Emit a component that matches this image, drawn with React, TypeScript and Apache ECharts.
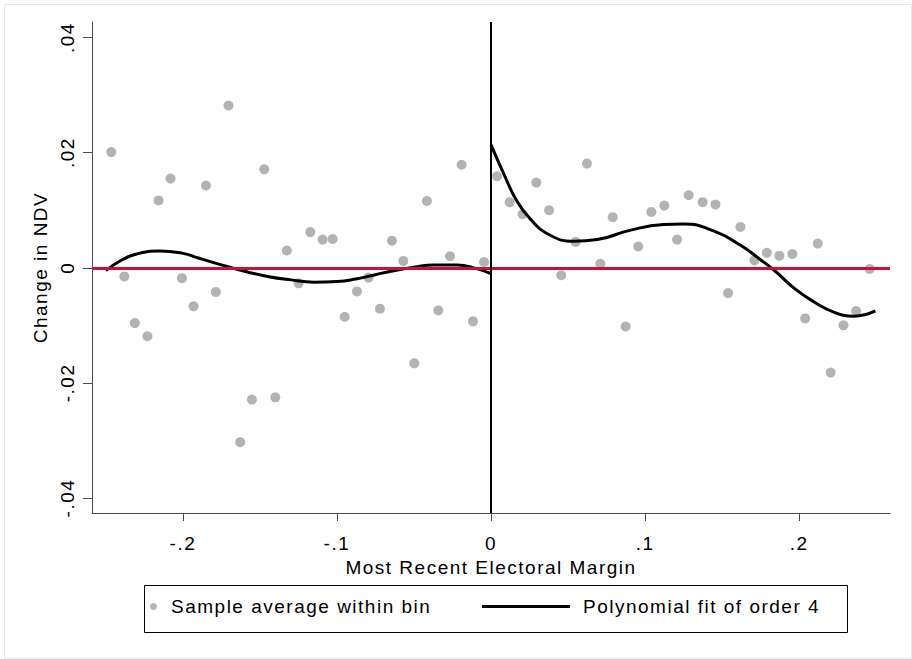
import React, { useEffect, useRef } from "react";
import * as echarts from "echarts";

// Binned sample averages (left of cutoff)
const leftBinX = [
  -0.2465, -0.238, -0.2312, -0.223, -0.2158, -0.208, -0.2006, -0.1931, -0.185, -0.1786, -0.1704,
  -0.1628, -0.1552, -0.1472, -0.14, -0.1325, -0.1249, -0.1173, -0.1093, -0.1028, -0.095, -0.087,
  -0.0795, -0.0721, -0.0643, -0.0569, -0.0498, -0.0416, -0.0342, -0.0266, -0.0191, -0.0117, -0.0045,
];
const leftBinY = [
  0.0201, -0.0015, -0.0096, -0.0119, 0.0117, 0.0155, -0.0018, -0.0067, 0.0143, -0.0042, 0.0282,
  -0.0303, -0.0229, 0.0171, -0.0225, 0.003, -0.0027, 0.0062, 0.0049, 0.005, -0.0085, -0.0041,
  -0.0017, -0.0071, 0.0047, 0.0012, -0.0166, 0.0116, -0.0074, 0.002, 0.0179, -0.0093, 0.001,
];
// Binned sample averages (right of cutoff)
const rightBinX = [
  0.0039, 0.0121, 0.0205, 0.0294, 0.0377, 0.0456, 0.0549, 0.0623, 0.071, 0.079, 0.0874, 0.0956,
  0.1041, 0.1125, 0.1208, 0.1283, 0.1374, 0.1457, 0.1539, 0.1619, 0.171, 0.179, 0.1872, 0.1956,
  0.2039, 0.2121, 0.2205, 0.2288, 0.237, 0.2458,
];
const rightBinY = [
  0.0159, 0.0114, 0.0093, 0.0148, 0.01, -0.0013, 0.0045, 0.0181, 0.0007, 0.0088, -0.0102, 0.0037,
  0.0097, 0.0108, 0.0049, 0.0126, 0.0114, 0.011, -0.0044, 0.0071, 0.0013, 0.0026, 0.0021, 0.0024,
  -0.0088, 0.0042, -0.0182, -0.01, -0.0075, -0.0002,
];
// Polynomial fit (order 4)
const fitLeftX = [
  -0.25, -0.24, -0.23, -0.215, -0.2, -0.19, -0.175, -0.16, -0.145, -0.13, -0.115, -0.1, -0.087,
  -0.075, -0.065, -0.05, -0.037, -0.022, -0.01, 0,
];
const fitLeftY = [
  -0.0005, 0.0013, 0.0024, 0.0029, 0.0025, 0.0017, 0.0005, -0.0006, -0.0015, -0.0021, -0.0025,
  -0.0024, -0.0019, -0.0012, -0.0006, 0.0001, 0.0005, 0.0005, -0.0001, -0.001,
];
const fitRightX = [
  0, 0.008, 0.017, 0.0255, 0.036, 0.054, 0.069, 0.09, 0.112, 0.125, 0.1445, 0.162, 0.175, 0.1846,
  0.1965, 0.2095, 0.2225, 0.2355, 0.2495,
];
const fitRightY = [
  0.0214, 0.0165, 0.0115, 0.0085, 0.006, 0.0046, 0.0049, 0.0065, 0.0075, 0.0076, 0.0064, 0.0039,
  0.0014, -0.0006, -0.0035, -0.0059, -0.0077, -0.0084, -0.0075,
];

const xTicks = [-0.2, -0.1, 0, 0.1, 0.2];
const yTicks = [-0.04, -0.02, 0, 0.02, 0.04];

const scatterName = "Sample average within bin";
const fitName = "Polynomial fit of order 4";
const xName = "Most Recent Electoral Margin";
const yName = "Change in NDV";

const FONT = "'Liberation Sans', Arial, Helvetica, sans-serif";

function stataFmt(v: number, digits: number): string {
  if (Math.abs(v) < 1e-12) return "0";
  const s = Math.abs(v).toFixed(digits).replace(/^0/, "");
  return (v < 0 ? "-" : "") + s;
}

const zip = (xs: number[], ys: number[]) => xs.map((x, i) => [x, ys[i]]);

export default function App() {
  const ref = useRef<HTMLDivElement>(null);

  useEffect(() => {
    if (!ref.current) return;
    const chart = echarts.init(ref.current, undefined, { renderer: "svg" });
    const option: any = {
      animation: false,
      backgroundColor: "#ffffff",
      grid: { left: 92, right: 22, top: 22, bottom: 146, containLabel: false },
      xAxis: {
        type: "value",
        min: -0.259,
        max: 0.259,
        name: xName,
        nameLocation: "middle",
        nameGap: 38,
        nameTextStyle: { fontSize: 19, color: "#000", fontFamily: FONT },
        axisLine: { show: true, onZero: false, lineStyle: { color: "#4d4d4d", width: 1 } },
        axisTick: { show: true, length: 8, customValues: xTicks, lineStyle: { color: "#4d4d4d" } },
        axisLabel: {
          customValues: xTicks,
          margin: 21,
          fontSize: 19,
          color: "#000",
          fontFamily: FONT,
          formatter: (v: number) => stataFmt(v, 1),
        },
        splitLine: { show: false },
      },
      yAxis: {
        type: "value",
        min: -0.0426,
        max: 0.0427,
        name: yName,
        nameLocation: "middle",
        nameGap: 40,
        nameTextStyle: { fontSize: 19, color: "#000", fontFamily: FONT },
        axisLine: { show: true, onZero: false, lineStyle: { color: "#4d4d4d", width: 1 } },
        axisTick: { show: true, length: 9, customValues: yTicks, lineStyle: { color: "#4d4d4d" } },
        axisLabel: {
          customValues: yTicks,
          rotate: 90,
          margin: 15,
          fontSize: 19,
          color: "#000",
          fontFamily: FONT,
          formatter: (v: number) => stataFmt(v, 2),
        },
        splitLine: { show: false },
      },
      legend: [
        {
          data: [{ name: scatterName, icon: "circle" }],
          left: 150,
          top: 597,
          padding: 0,
          itemWidth: 25,
          itemHeight: 7,
          textStyle: { fontSize: 19, color: "#000", fontFamily: FONT },
          selectedMode: false,
        },
        {
          data: [{ name: fitName, icon: "rect" }],
          left: 482,
          top: 597,
          padding: 0,
          itemWidth: 88,
          itemHeight: 3,
          textStyle: { fontSize: 19, color: "#000", fontFamily: FONT, padding: [0, 0, 0, 8] },
          selectedMode: false,
        },
      ],
      graphic: [
        {
          type: "rect",
          left: 142,
          top: 583,
          shape: { width: 703, height: 47 },
          style: { fill: "none", stroke: "#000", lineWidth: 1 },
          silent: true,
        },
        {
          type: "rect",
          left: 2,
          top: 2,
          shape: { width: 907, height: 654 },
          style: { fill: "none", stroke: "#e4e8ee", lineWidth: 1 },
          silent: true,
        },
      ],
      series: [
        {
          name: "ref-lines",
          type: "line",
          data: [],
          z: 1,
          silent: true,
          markLine: {
            silent: true,
            symbol: "none",
            label: { show: false },
            animation: false,
            data: [
              { yAxis: 0, lineStyle: { color: "#c8103e", width: 3, type: "solid" } },
              { xAxis: 0, lineStyle: { color: "#000", width: 2, type: "solid" } },
            ],
          },
        },
        {
          name: scatterName,
          type: "scatter",
          data: zip(leftBinX, leftBinY).concat(zip(rightBinX, rightBinY)),
          symbol: "circle",
          symbolSize: 10,
          itemStyle: { color: "#a0a0a0" },
          z: 2,
        },
        {
          name: fitName,
          type: "line",
          data: zip(fitLeftX, fitLeftY),
          showSymbol: false,
          smooth: 0.5,
          lineStyle: { color: "#000", width: 3 },
          itemStyle: { color: "#000" },
          z: 3,
        },
        {
          name: fitName,
          type: "line",
          data: zip(fitRightX, fitRightY),
          showSymbol: false,
          smooth: 0.5,
          lineStyle: { color: "#000", width: 3 },
          itemStyle: { color: "#000" },
          z: 3,
        },
      ],
    };
    chart.setOption(option);
    return () => chart.dispose();
  }, []);

  return (
    <>
      <style>{`.ec-stata text { letter-spacing: 1.5px; }`}</style>
      <div
        ref={ref}
        className="ec-stata"
        style={{ position: "fixed", left: 0, top: 0, width: 912, height: 659, background: "#fff" }}
      />
    </>
  );
}
